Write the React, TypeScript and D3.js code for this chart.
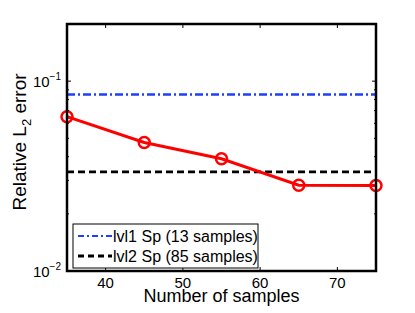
import React from 'react';
import * as d3 from 'd3';

// values
const samples = [35, 45, 55, 65, 75];
const errors = [0.065, 0.0475, 0.039, 0.0283, 0.0282];
const lvl1Error = 0.085;
const lvl2Error = 0.0333;
const xTicks = [40, 50, 60, 70];
const yDecades = [0.01, 0.1];
const legendLabels = ['lvl1 Sp (13 samples)', 'lvl2 Sp (85 samples)'];

const W = 415;
const H = 313;
const margin = { top: 24, right: 39, bottom: 42, left: 67 };
const font = 'Liberation Sans, Arial, Helvetica, sans-serif';

const App = () => {
  const iw = W - margin.left - margin.right;
  const ih = H - margin.top - margin.bottom;

  const x = d3.scaleLinear().domain([35, 75]).range([0, iw]);
  const y = d3.scaleLog().domain([0.01, 0.2]).range([ih, 0]);

  // minor ticks for the log axis
  const minor: number[] = [];
  for (let k = 2; k <= 9; k++) minor.push(k * 0.01);
  minor.push(0.2);

  const line = d3
    .line<number>()
    .x((_, i) => x(samples[i]))
    .y((d) => y(d));

  const tickLen = 4;

  return (
    <svg width={W} height={H} style={{ position: 'absolute', left: 0, top: 0 }}>
      <rect width={W} height={H} fill="white" />
      <g transform={`translate(${margin.left},${margin.top})`} fontFamily={font}>
        {/* reference lines */}
        <line x1={0} x2={iw} y1={y(lvl1Error)} y2={y(lvl1Error)} stroke="#1f3fff" strokeWidth={2.5} strokeDasharray="8,3,2,3" />
        <line x1={0} x2={iw} y1={y(lvl2Error)} y2={y(lvl2Error)} stroke="black" strokeWidth={2.8} strokeDasharray="7,4" />

        {/* red series */}
        <path d={line(errors) || ''} fill="none" stroke="#ff0000" strokeWidth={3} />
        {errors.map((e, i) => (
          <circle key={i} cx={x(samples[i])} cy={y(e)} r={5.5} fill="none" stroke="#ff0000" strokeWidth={2.5} />
        ))}

        {/* x ticks */}
        {xTicks.map((t) => (
          <g key={t}>
            <line x1={x(t)} x2={x(t)} y1={ih} y2={ih - tickLen} stroke="black" strokeWidth={1} />
            <line x1={x(t)} x2={x(t)} y1={0} y2={tickLen} stroke="black" strokeWidth={1} />
            <text x={x(t)} y={ih + 17} textAnchor="middle" fontSize={15}>
              {t}
            </text>
          </g>
        ))}

        {/* y ticks */}
        {yDecades.map((t) => (
          <g key={t}>
            <line x1={0} x2={tickLen} y1={y(t)} y2={y(t)} stroke="black" strokeWidth={1} />
            <line x1={iw} x2={iw - tickLen} y1={y(t)} y2={y(t)} stroke="black" strokeWidth={1} />
            <text x={-6} y={y(t) + 6} textAnchor="end" fontSize={15}>
              10
              <tspan dy={-7} fontSize={10}>
                {'\u2212' + Math.round(-Math.log10(t))}
              </tspan>
            </text>
          </g>
        ))}
        {minor.map((t) => (
          <g key={'m' + t}>
            <line x1={0} x2={2} y1={y(t)} y2={y(t)} stroke="black" strokeWidth={1} />
            <line x1={iw} x2={iw - 2} y1={y(t)} y2={y(t)} stroke="black" strokeWidth={1} />
          </g>
        ))}

        {/* frame */}
        <rect x={0} y={0} width={iw} height={ih} fill="none" stroke="black" strokeWidth={2.5} />

        {/* legend */}
        <g transform="translate(6,200)">
          <rect x={0} y={0} width={185} height={44} fill="white" stroke="black" strokeWidth={1} />
          <line x1={5} x2={39} y1={12} y2={12} stroke="#1f3fff" strokeWidth={2} strokeDasharray="6,3,2,3" />
          <text x={40} y={17.5} fontSize={16}>
            {legendLabels[0]}
          </text>
          <line x1={5} x2={39} y1={32} y2={32} stroke="black" strokeWidth={2.8} strokeDasharray="6,4" />
          <text x={40} y={37.5} fontSize={16}>
            {legendLabels[1]}
          </text>
        </g>

        {/* axis labels */}
        <text x={iw / 2} y={ih + 31} textAnchor="middle" fontSize={18}>
          Number of samples
        </text>
        <text transform={`translate(-41,${142 - margin.top}) rotate(-90)`} textAnchor="middle" fontSize={19}>
          Relative L<tspan dy={5} fontSize={13}>2</tspan>
          <tspan dy={-5}> error</tspan>
        </text>
      </g>
    </svg>
  );
};

export default App;
